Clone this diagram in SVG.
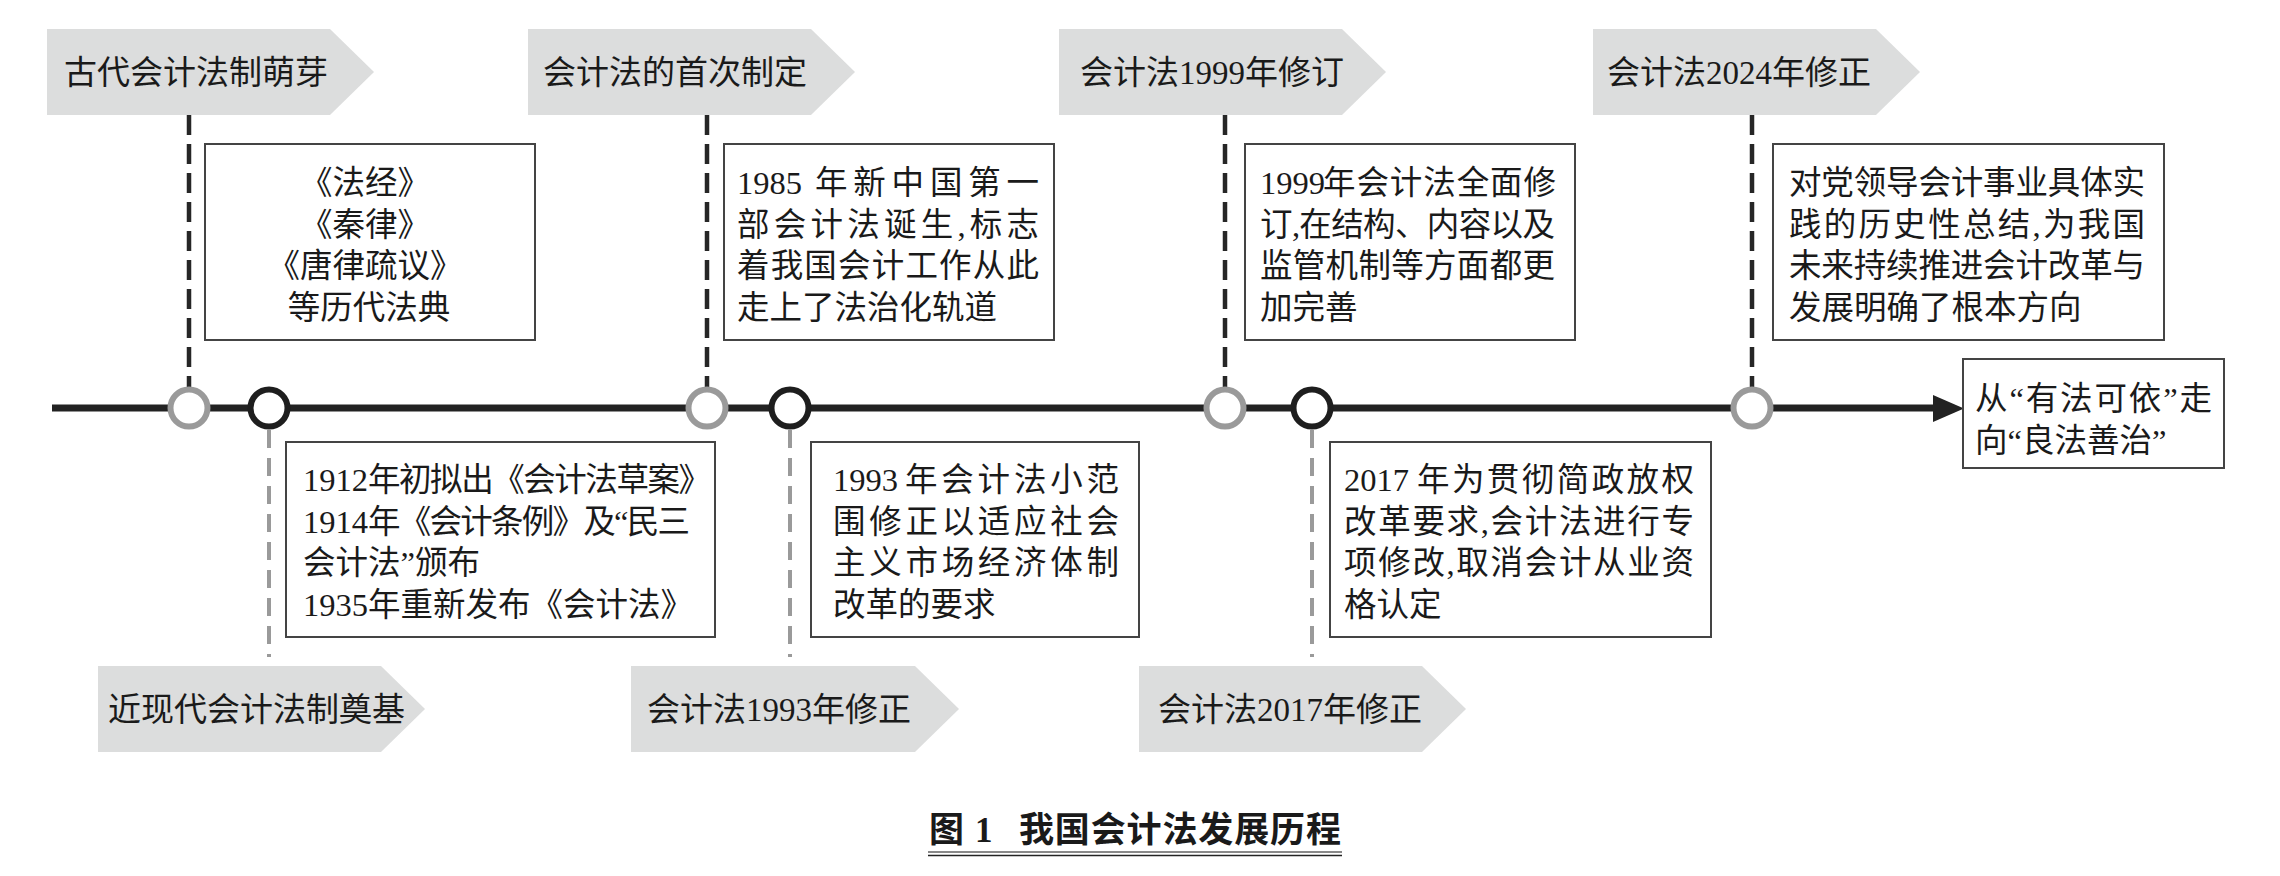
<svg xmlns="http://www.w3.org/2000/svg" width="2280" height="876" viewBox="0 0 2280 876">
<style>
.tag{fill:#dcdddd}
.box{fill:#fff;stroke:#444;stroke-width:2}
.t{font-family:"Liberation Serif","Noto Sans CJK SC",serif;font-size:32.5px;fill:#1a1a1a}
.tt{font-family:"Liberation Serif","Noto Sans CJK SC",serif;font-size:33px;fill:#1a1a1a}
.cap{font-family:"Liberation Serif","Noto Sans CJK SC",serif;font-size:35px;font-weight:bold;fill:#1a1a1a}
.dt{stroke:#262626;stroke-width:4.5;stroke-dasharray:20 9;fill:none}
.db{stroke:#9a9a9a;stroke-width:4;stroke-dasharray:18 10;fill:none}
.cg{fill:#fff;stroke:#9a9a9a;stroke-width:6}
.cb{fill:#fff;stroke:#1e1e1e;stroke-width:6}
</style>
<rect x="0" y="0" width="2280" height="876" fill="#fff"/>

<g id="connectors">
  <line x1="52" y1="408" x2="1937" y2="408" stroke="#222" stroke-width="7"/>
  <polygon points="1933,395 1964,408.5 1933,422" fill="#222"/>
  <line class="dt" x1="189" y1="115" x2="189" y2="388"/>
  <line class="dt" x1="707" y1="115" x2="707" y2="388"/>
  <line class="dt" x1="1225" y1="115" x2="1225" y2="388"/>
  <line class="dt" x1="1752" y1="115" x2="1752" y2="388"/>
  <line class="db" x1="269" y1="430" x2="269" y2="657"/>
  <line class="db" x1="790" y1="430" x2="790" y2="657"/>
  <line class="db" x1="1312" y1="430" x2="1312" y2="657"/>
</g>

<g id="points">
  <circle class="cg" cx="189" cy="408" r="18.5"/>
  <circle class="cb" cx="269" cy="408" r="18.5"/>
  <circle class="cg" cx="707" cy="408" r="18.5"/>
  <circle class="cb" cx="790" cy="408" r="18.5"/>
  <circle class="cg" cx="1225" cy="408" r="18.5"/>
  <circle class="cb" cx="1312" cy="408" r="18.5"/>
  <circle class="cg" cx="1752" cy="408" r="18.5"/>
</g>

<g id="tag-ancient">
  <path class="tag" d="M47 29H330L374 72L330 115H47Z"/>
  <text class="tt" x="64" y="84">古代会计法制萌芽</text>
</g>
<g id="tag-first">
  <path class="tag" d="M528 29H811L855 72L811 115H528Z"/>
  <text class="tt" x="543" y="84">会计法的首次制定</text>
</g>
<g id="tag-1999">
  <path class="tag" d="M1059 29H1342L1386 72L1342 115H1059Z"/>
  <text class="tt" x="1080" y="84">会计法1999年修订</text>
</g>
<g id="tag-2024">
  <path class="tag" d="M1593 29H1876L1920 72L1876 115H1593Z"/>
  <text class="tt" x="1607" y="84">会计法2024年修正</text>
</g>
<g id="tag-modern">
  <path class="tag" d="M98 666H381L425 709L381 752H98Z"/>
  <text class="tt" x="108" y="721">近现代会计法制奠基</text>
</g>
<g id="tag-1993">
  <path class="tag" d="M631 666H915L959 709L915 752H631Z"/>
  <text class="tt" x="647" y="721">会计法1993年修正</text>
</g>
<g id="tag-2017">
  <path class="tag" d="M1139 666H1422L1466 709L1422 752H1139Z"/>
  <text class="tt" x="1158" y="721">会计法2017年修正</text>
</g>

<g id="box-ancient">
  <rect class="box" x="205" y="144" width="330" height="196"/>
  <text class="t" text-anchor="middle">
    <tspan x="369" y="194">《法经》</tspan>
    <tspan x="369" y="235.5">《秦律》</tspan>
    <tspan x="369" y="277">《唐律疏议》</tspan>
    <tspan x="369" y="318.5">等历代法典</tspan>
  </text>
</g>
<g id="box-first">
  <rect class="box" x="724" y="144" width="330" height="196"/>
  <text class="t" y="194"><tspan x="737">1985</tspan><tspan x="815" textLength="224" lengthAdjust="spacing">年新中国第一</tspan></text>
  <text class="t" x="737" y="235.5" textLength="302" lengthAdjust="spacing">部会计法诞生,标志</text>
  <text class="t" x="737" y="277" textLength="302" lengthAdjust="spacing">着我国会计工作从此</text>
  <text class="t" x="737" y="318.5">走上了法治化轨道</text>
</g>
<g id="box-1999">
  <rect class="box" x="1245" y="144" width="330" height="196"/>
  <text class="t" y="194"><tspan x="1260">1999</tspan><tspan x="1323" textLength="233" lengthAdjust="spacing">年会计法全面修</tspan></text>
  <text class="t" x="1260" y="235.5" textLength="295" lengthAdjust="spacing">订,在结构、内容以及</text>
  <text class="t" x="1260" y="277" textLength="295" lengthAdjust="spacing">监管机制等方面都更</text>
  <text class="t" x="1260" y="318.5">加完善</text>
</g>
<g id="box-2024">
  <rect class="box" x="1773" y="144" width="391" height="196"/>
  <text class="t" x="1789" y="194" textLength="356" lengthAdjust="spacing">对党领导会计事业具体实</text>
  <text class="t" x="1789" y="235.5" textLength="356" lengthAdjust="spacing">践的历史性总结,为我国</text>
  <text class="t" x="1789" y="277" textLength="356" lengthAdjust="spacing">未来持续推进会计改革与</text>
  <text class="t" x="1789" y="318.5">发展明确了根本方向</text>
</g>
<g id="box-modern">
  <rect class="box" x="286" y="442" width="429" height="195"/>
  <text class="t" y="491"><tspan x="303">1912</tspan><tspan x="368" textLength="343" lengthAdjust="spacing">年初拟出《会计法草案》</tspan></text>
  <text class="t" y="532.5"><tspan x="303">1914</tspan><tspan x="368" textLength="322" lengthAdjust="spacing">年《会计条例》及“民三</tspan></text>
  <text class="t" x="303" y="574">会计法”颁布</text>
  <text class="t" x="303" y="615.5">1935年重新发布《会计法》</text>
</g>
<g id="box-1993">
  <rect class="box" x="811" y="442" width="328" height="195"/>
  <text class="t" y="491"><tspan x="833">1993</tspan><tspan x="905" textLength="214" lengthAdjust="spacing">年会计法小范</tspan></text>
  <text class="t" x="833" y="532.5" textLength="286" lengthAdjust="spacing">围修正以适应社会</text>
  <text class="t" x="833" y="574" textLength="286" lengthAdjust="spacing">主义市场经济体制</text>
  <text class="t" x="833" y="615.5">改革的要求</text>
</g>
<g id="box-2017">
  <rect class="box" x="1330" y="442" width="381" height="195"/>
  <text class="t" y="491"><tspan x="1344">2017</tspan><tspan x="1417" textLength="277" lengthAdjust="spacing">年为贯彻简政放权</tspan></text>
  <text class="t" x="1344" y="532.5" textLength="350" lengthAdjust="spacing">改革要求,会计法进行专</text>
  <text class="t" x="1344" y="574" textLength="350" lengthAdjust="spacing">项修改,取消会计从业资</text>
  <text class="t" x="1344" y="615.5">格认定</text>
</g>
<g id="box-goal">
  <rect class="box" x="1963" y="359" width="261" height="109"/>
  <text class="t" x="1975" y="410" textLength="237" lengthAdjust="spacing">从“有法可依”走</text>
  <text class="t" x="1975" y="452">向“良法善治”</text>
</g>

<g id="caption">
  <text class="cap" y="842"><tspan x="929">图</tspan><tspan x="975">1</tspan><tspan x="1019" textLength="322" lengthAdjust="spacing">我国会计法发展历程</tspan></text>
  <line x1="928" y1="852" x2="1342" y2="852" stroke="#888" stroke-width="2"/>
  <line x1="928" y1="855.5" x2="1342" y2="855.5" stroke="#222" stroke-width="1.5"/>
</g>
</svg>
